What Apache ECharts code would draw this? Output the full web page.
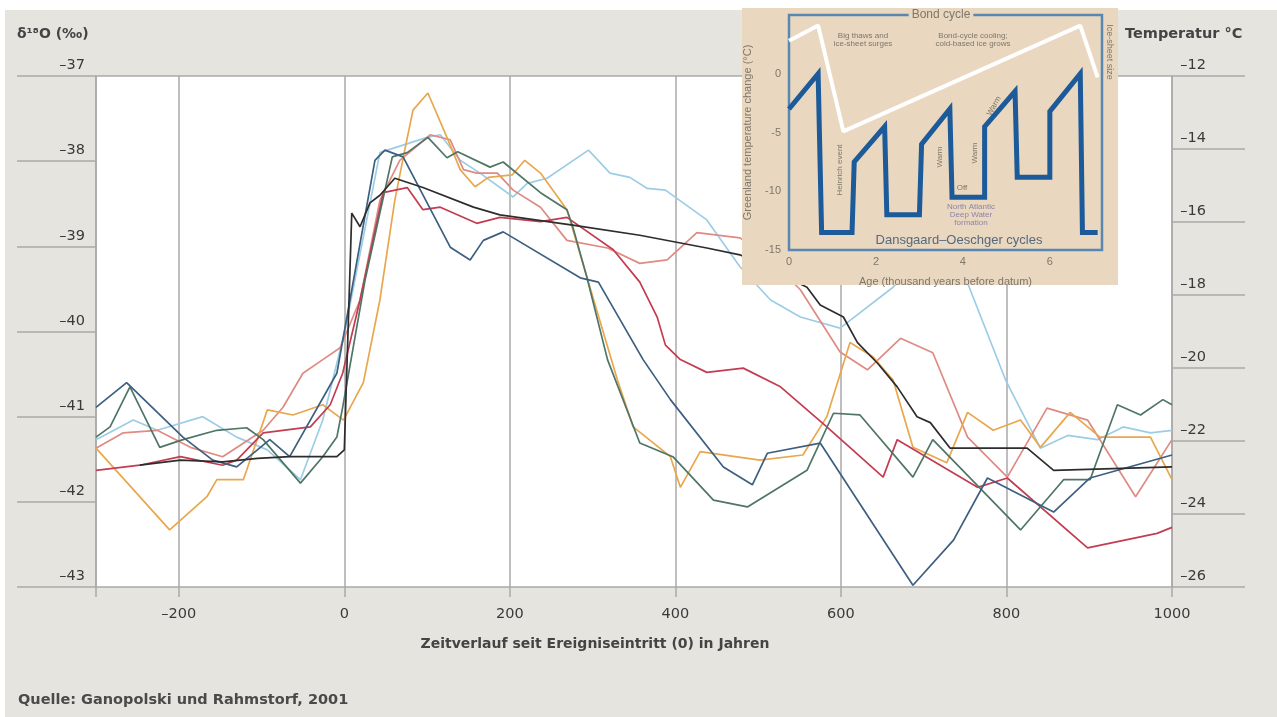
<!DOCTYPE html>
<html><head><meta charset="utf-8">
<script src="https://cdn.jsdelivr.net/npm/echarts@6/dist/echarts.min.js"></script>
<style>html,body{margin:0;padding:0;background:#fff}#c{width:1277px;height:717px}</style>
</head><body><div id="c"></div>
<script>
// ---- axes ----
const xTickYears = [-300, -200, 0, 200, 400, 600, 800, 1000];
const xLabelYears = [-200, 0, 200, 400, 600, 800, 1000];

// ---- main series (year, delta18O permil) ----
const lbYears = [-300,-255,-226,-171,-130,-93,-53,-26,1,43,52,100,116,140,164,204,221,245,295,321,345,366,388,438,478,515,551,599,663,708,753,799,841,874,910,941,974,1000];
const lbVals  = [-41.27,-41.04,-41.16,-41.00,-41.24,-41.39,-41.74,-41.04,-39.98,-37.90,-37.87,-37.72,-37.69,-37.99,-38.14,-38.42,-38.26,-38.20,-37.87,-38.14,-38.19,-38.32,-38.34,-38.69,-39.24,-39.63,-39.83,-39.96,-39.48,-39.04,-39.43,-40.57,-41.37,-41.22,-41.27,-41.12,-41.19,-41.16];

const salmonYears = [-300,-267,-226,-186,-147,-98,-74,-50,-26,-5,19,43,67,104,128,144,160,185,204,237,269,318,357,390,426,478,515,551,599,632,672,711,753,801,849,898,956,1000];
const salmonVals  = [-41.37,-41.19,-41.16,-41.36,-41.47,-41.16,-40.89,-40.49,-40.33,-40.19,-39.63,-38.46,-37.99,-37.69,-37.75,-38.10,-38.14,-38.14,-38.34,-38.54,-38.93,-39.02,-39.20,-39.16,-38.84,-38.90,-39.16,-39.51,-40.24,-40.45,-40.08,-40.25,-41.24,-41.71,-40.90,-41.04,-41.94,-41.27];

const orangeYears = [-300,-211,-166,-154,-122,-118,-93,-62,-26,-1,23,43,61,73,83,101,124,140,158,174,203,218,237,269,330,349,394,406,430,502,554,583,611,639,663,687,728,753,784,817,841,877,913,974,1000];
const orangeVals  = [-41.37,-42.33,-41.94,-41.74,-41.74,-41.63,-40.92,-40.98,-40.86,-41.04,-40.60,-39.63,-38.46,-37.87,-37.40,-37.20,-37.72,-38.10,-38.30,-38.19,-38.16,-37.99,-38.14,-38.57,-40.57,-41.12,-41.47,-41.83,-41.41,-41.51,-41.45,-41.00,-40.13,-40.30,-40.57,-41.36,-41.54,-40.95,-41.16,-41.04,-41.36,-40.95,-41.24,-41.24,-41.74];

const redYears = [-300,-247,-198,-147,-130,-98,-41,-17,-2,19,47,76,95,116,160,188,237,269,325,357,378,388,406,438,482,527,583,651,668,765,801,898,982,1000];
const redVals  = [-41.63,-41.57,-41.47,-41.57,-41.51,-41.19,-41.12,-40.86,-40.49,-39.63,-38.37,-38.31,-38.57,-38.54,-38.73,-38.66,-38.71,-38.66,-39.04,-39.42,-39.83,-40.16,-40.33,-40.48,-40.43,-40.65,-41.12,-41.71,-41.27,-41.83,-41.72,-42.54,-42.37,-42.30];

const greenYears = [-300,-283,-259,-223,-195,-154,-118,-98,-53,-26,-9,-2,25,58,76,101,124,137,176,192,237,269,276,293,318,357,397,446,487,559,591,623,687,711,817,869,901,934,962,989,1000];
const greenVals  = [-41.24,-41.12,-40.65,-41.36,-41.27,-41.16,-41.13,-41.27,-41.78,-41.47,-41.24,-40.89,-39.40,-37.95,-37.90,-37.72,-37.96,-37.89,-38.07,-38.01,-38.37,-38.57,-38.77,-39.36,-40.33,-41.31,-41.47,-41.98,-42.06,-41.63,-40.96,-40.98,-41.71,-41.27,-42.33,-41.74,-41.74,-40.86,-40.98,-40.80,-40.86];

const slateYears = [-300,-263,-195,-159,-130,-90,-66,-9,37,49,71,128,152,168,192,285,307,361,394,458,493,511,575,687,736,777,857,901,1000];
const slateVals  = [-40.89,-40.60,-41.24,-41.51,-41.59,-41.27,-41.47,-40.49,-37.99,-37.87,-37.95,-39.01,-39.16,-38.93,-38.83,-39.37,-39.42,-40.33,-40.80,-41.59,-41.80,-41.43,-41.31,-42.98,-42.45,-41.72,-42.12,-41.72,-41.45];

const blackYears = [-247,-198,-147,-105,-66,-9,0,9,19,31,43,61,95,156,188,276,357,438,478,559,575,603,620,644,668,692,708,732,825,857,1000];
const blackVals  = [-41.57,-41.51,-41.53,-41.49,-41.47,-41.47,-41.39,-38.61,-38.77,-38.49,-38.40,-38.20,-38.31,-38.54,-38.63,-38.75,-38.87,-39.02,-39.10,-39.48,-39.69,-39.83,-40.13,-40.37,-40.65,-41.00,-41.07,-41.37,-41.37,-41.63,-41.59];

// ---- inset (age kyr, Greenland temperature change) ----
const doAge  = [0,0.67,0.75,1.45,1.5,2.2,2.25,3.0,3.05,3.7,3.75,4.5,4.5,5.2,5.25,6.0,6.0,6.7,6.75,7.1];
const doTemp = [-3,0,-13.5,-13.5,-7.5,-4.5,-12,-12,-6,-3,-10.5,-10.5,-4.5,-1.5,-8.8,-8.8,-3.2,0,-13.5,-13.5];
const bondAge  = [0,0.67,1.25,6.7,7.1];
const bondTemp = [2.8,4.1,-4.9,4.1,-0.3];

const FONT = "'DejaVu Sans', 'Liberation Sans', Arial, sans-serif";
const SMALLFONT = "'Liberation Sans', Arial, sans-serif";
const dash = v => String(v).replace('-', '\u2013');
const pairs = (xs, ys) => xs.map((x, i) => [x, ys[i]]);

const mainDefs = [
  ['hellblau', '#9ccde5', lbYears, lbVals],
  ['lachs', '#df8b83', salmonYears, salmonVals],
  ['orange', '#e9a74d', orangeYears, orangeVals],
  ['rot', '#c43c52', redYears, redVals],
  ['gruen', '#4f7566', greenYears, greenVals],
  ['blaugrau', '#3d5f80', slateYears, slateVals],
  ['schwarz', '#2d2d2d', blackYears, blackVals]
];

const series = mainDefs.map(d => ({
  name: d[0], type: 'line', xAxisIndex: 0, yAxisIndex: 0, z: 2,
  data: pairs(d[2], d[3]), symbol: 'none', smooth: false,
  lineStyle: { color: d[1], width: 1.7 }
}));
series.push({
  name: 'Bond', type: 'line', xAxisIndex: 1, yAxisIndex: 2, z: 13,
  data: pairs(bondAge, bondTemp), symbol: 'none',
  lineStyle: { color: '#ffffff', width: 4 }
});
series.push({
  name: 'DO', type: 'line', xAxisIndex: 1, yAxisIndex: 2, z: 14,
  data: pairs(doAge, doTemp), symbol: 'none',
  lineStyle: { color: '#1c5a99', width: 5, join: 'miter' }
});

const insetText = (x, y, text, opts) => Object.assign({
  type: 'text', x: x, y: y, z: 20,
  style: Object.assign({ text: text, fill: '#7d776c', font: '8px ' + SMALLFONT, textAlign: 'center', textVerticalAlign: 'middle' }, (opts && opts.style) || {})
}, opts && opts.rotation !== undefined ? { rotation: opts.rotation } : {});

const option = {
  backgroundColor: '#e5e4df',
  animation: false,
  textStyle: { fontFamily: FONT },
  title: [
    { text: '\u03b4\u00b9\u2078O (\u2030)', left: 12, top: 22, textStyle: { fontSize: 14, fontWeight: 'bold', color: '#444', fontFamily: FONT } },
    { text: 'Temperatur \u00b0C', left: 1120, top: 22, textStyle: { fontSize: 14.5, fontWeight: 'bold', color: '#444', fontFamily: FONT } },
    { text: 'Quelle: Ganopolski und Rahmstorf, 2001', left: 13, top: 688, textStyle: { fontSize: 14.5, fontWeight: 'bold', color: '#4a4a4a', fontFamily: FONT } }
  ],
  grid: [
    { left: 96, right: 105, top: 76, bottom: 130, show: true, backgroundColor: '#ffffff', borderColor: '#a9a9a9', borderWidth: 1.5 },
    { left: 789, top: 15, width: 313, height: 235, show: true, backgroundColor: 'transparent', borderColor: '#5a87b2', borderWidth: 2.5, z: 12 }
  ],
  xAxis: [
    {
      type: 'value', gridIndex: 0, min: -300, max: 1000,
      name: 'Zeitverlauf seit Ereigniseintritt (0) in Jahren', nameLocation: 'middle', nameGap: 50,
      nameTextStyle: { fontSize: 14, fontWeight: 'bold', color: '#444', padding: [0, 78, 0, 0] },
      axisLine: { show: false, onZero: false },
      axisTick: { show: true, customValues: xTickYears, length: 10, lineStyle: { color: '#a9a9a9', width: 1.5 } },
      axisLabel: { customValues: xLabelYears, margin: 20, fontSize: 14.5, color: '#3a3a3a', formatter: dash },
      splitLine: { show: true, lineStyle: { color: '#a9a9a9', width: 1.5 } }
    },
    {
      type: 'value', gridIndex: 1, min: 0, max: 7.2, interval: 2, z: 12,
      name: 'Age (thousand years before datum)', nameLocation: 'middle', nameGap: 26,
      nameTextStyle: { fontSize: 11, color: '#7d776c', fontFamily: SMALLFONT },
      axisLine: { show: false, onZero: false }, axisTick: { show: false },
      axisLabel: { fontSize: 11, color: '#7d776c', margin: 6, showMaxLabel: false, fontFamily: SMALLFONT },
      splitLine: { show: false }
    }
  ],
  yAxis: [
    {
      type: 'value', gridIndex: 0, position: 'left', min: -43, max: -37, interval: 1,
      axisLine: { show: false, onZero: false },
      axisTick: { show: true, length: 79, lineStyle: { color: '#a9a9a9', width: 1.5 } },
      axisLabel: { margin: 11, fontSize: 14.5, color: '#3a3a3a', verticalAlign: 'bottom', padding: [0, 0, 3, 0], formatter: dash },
      splitLine: { show: false }
    },
    {
      type: 'value', gridIndex: 0, position: 'right', min: -26, max: -12, interval: 2,
      axisLine: { show: false, onZero: false },
      axisTick: { show: true, length: 73, lineStyle: { color: '#a9a9a9', width: 1.5 } },
      axisLabel: { margin: 21, align: 'center', fontSize: 14.5, color: '#3a3a3a', verticalAlign: 'bottom', padding: [0, 0, 3, 0], formatter: dash },
      splitLine: { show: false }
    },
    {
      type: 'value', gridIndex: 1, min: -15, max: 5, interval: 5, z: 12,
      name: 'Greenland temperature change (\u00b0C)', nameLocation: 'middle', nameGap: 36,
      nameTextStyle: { fontSize: 11, color: '#7d776c', fontFamily: SMALLFONT },
      axisLine: { show: false, onZero: false }, axisTick: { show: false },
      axisLabel: { fontSize: 11, color: '#7d776c', margin: 8, showMaxLabel: false, fontFamily: SMALLFONT },
      splitLine: { show: false }
    }
  ],
  graphic: {
    elements: [
      { type: 'rect', z: -1, shape: { x: 0, y: 0, width: 1277, height: 10 }, style: { fill: '#ffffff' } },
      { type: 'rect', z: -1, shape: { x: 0, y: 0, width: 5, height: 717 }, style: { fill: '#ffffff' } },
      { type: 'rect', z: 10, shape: { x: 742, y: 8, width: 376, height: 277 }, style: { fill: '#e9d7bf' } },
      insetText(941, 15, 'Bond cycle', { style: { font: '12px ' + SMALLFONT, fill: '#7d776c', backgroundColor: '#e9d7bf', padding: [0, 3] } }),
      insetText(1109, 52, 'Ice-sheet size', { rotation: -Math.PI / 2, style: { font: '9px ' + SMALLFONT } }),
      insetText(863, 40, 'Big thaws and\nice-sheet surges', {}),
      insetText(973, 40, 'Bond-cycle cooling;\ncold-based ice grows', {}),
      insetText(840, 170, 'Heinrich event', { rotation: Math.PI / 2 }),
      insetText(940, 157, 'Warm', { rotation: Math.PI / 2 }),
      insetText(975, 153, 'Warm', { rotation: Math.PI / 2 }),
      insetText(994, 106, 'Warm', { rotation: Math.PI / 3 }),
      insetText(962, 188, 'Off', {}),
      insetText(971, 215, 'North Atlantic\nDeep Water\nformation', { style: { fill: '#8e84a6' } }),
      insetText(959, 240, 'Dansgaard\u2013Oeschger cycles', { style: { font: '13px ' + SMALLFONT, fill: '#56697d' } })
    ]
  },
  series: series
};

const chart = echarts.init(document.getElementById('c'), null, { renderer: 'canvas' });
chart.setOption(option);
</script></body></html>
